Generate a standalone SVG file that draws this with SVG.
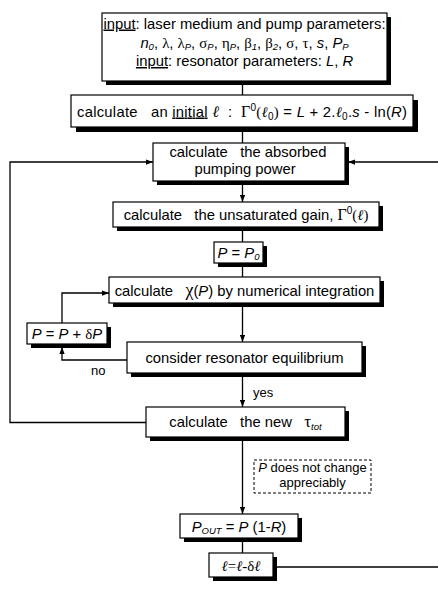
<svg xmlns="http://www.w3.org/2000/svg" width="438" height="595" viewBox="0 0 438 595">
<style>
text{font-family:"Liberation Sans",Arial,sans-serif;font-size:14.8px;fill:#000;white-space:pre}
.box{fill:#fff;stroke:#000;stroke-width:1.2}
.sh{fill:#000}
.ln{fill:none;stroke:#000;stroke-width:1.3}
.dash{fill:#fff;stroke:#000;stroke-width:1;stroke-dasharray:3,2}
.it{font-style:italic}
.gr{font-family:"Liberation Serif","Times New Roman",serif}
.sub{font-size:9.5px;font-style:italic}
.sm{font-size:13px}
</style>
<defs>
<marker id="ah" viewBox="0 0 8 6" refX="8" refY="3" markerWidth="7" markerHeight="5.5" orient="auto" markerUnits="userSpaceOnUse">
<path d="M0,0 L8,3 L0,6 z" fill="#000"/>
</marker>
</defs>
<rect width="438" height="595" fill="#fff"/>

<g id="connectors">
<path class="ln" d="M242.5,84 V95"/>
<path class="ln" d="M242.5,131 V143"/>
<path class="ln" d="M242.5,185 V202" marker-end="url(#ah)"/>
<path class="ln" d="M242.5,230 V242"/>
<path class="ln" d="M242.5,266 V277"/>
<path class="ln" d="M242.5,306 V342" marker-end="url(#ah)"/>
<path class="ln" d="M242.5,376 V407" marker-end="url(#ah)"/>
<path class="ln" d="M242.5,440 V514" marker-end="url(#ah)"/>
<path class="ln" d="M242.5,541 V553"/>
<path class="ln" d="M146,422.5 H10 V162 H153" marker-end="url(#ah)"/>
<path class="ln" d="M438,162 H348" marker-end="url(#ah)"/>
<path class="ln" d="M62,323 V293 H109" marker-end="url(#ah)"/>
<path class="ln" d="M127,360 H62 V347" marker-end="url(#ah)"/>
<path class="ln" d="M276,567 H438"/>
<text x="91" y="375" class="sm">no</text>
<text x="253" y="397" class="sm">yes</text>
</g>

<g id="input">
<rect class="sh" x="106" y="17" width="285" height="68"/>
<rect class="box" x="102" y="13" width="285" height="68"/>
<text x="244.5" y="28.5" text-anchor="middle"><tspan text-decoration="underline">input</tspan>: laser medium and pump parameters:</text>
<text x="244.5" y="47.5" text-anchor="middle"><tspan class="it">n</tspan><tspan class="sub" dy="2.5">0</tspan><tspan dy="-2.5">, </tspan><tspan class="gr">λ</tspan>, <tspan class="gr">λ</tspan><tspan class="sub" dy="2.5">P</tspan><tspan dy="-2.5">, </tspan><tspan class="gr">σ</tspan><tspan class="sub" dy="2.5">P</tspan><tspan dy="-2.5">, </tspan><tspan class="gr">η</tspan><tspan class="sub" dy="2.5">P</tspan><tspan dy="-2.5">, </tspan><tspan class="gr">β</tspan><tspan class="sub" dy="2.5">1</tspan><tspan dy="-2.5">, </tspan><tspan class="gr">β</tspan><tspan class="sub" dy="2.5">2</tspan><tspan dy="-2.5">, </tspan><tspan class="gr">σ</tspan>, <tspan class="gr">τ</tspan>, <tspan class="it">s</tspan>, <tspan class="it">P</tspan><tspan class="sub" dy="2.5">P</tspan></text>
<text x="244.5" y="66" text-anchor="middle"><tspan text-decoration="underline">input</tspan>: resonator parameters: <tspan class="it">L</tspan>, <tspan class="it">R</tspan></text>
</g>

<g id="initial">
<rect class="sh" x="76" y="100" width="342" height="32"/>
<rect class="box" x="71" y="95" width="342" height="32"/>
<text x="77" y="116.5" textLength="330" lengthAdjust="spacing">calculate   an <tspan text-decoration="underline">initial</tspan> <tspan class="gr it" font-size="16">ℓ</tspan>  :  <tspan class="gr" font-size="16">Γ</tspan><tspan font-size="10" dy="-6">0</tspan><tspan class="gr" dy="6">(<tspan class="it">ℓ</tspan></tspan><tspan font-size="10" dy="3">0</tspan><tspan class="gr" dy="-3">)</tspan> = <tspan class="it">L</tspan> + 2.<tspan class="gr it">ℓ</tspan><tspan font-size="10" dy="3">0</tspan><tspan dy="-3">.</tspan><tspan class="it">s</tspan> - ln(<tspan class="it">R</tspan>)</text>
</g>

<g id="absorbed">
<rect class="sh" x="157" y="147" width="192" height="38"/>
<rect class="box" x="153" y="143" width="192" height="38"/>
<text x="248" y="157" text-anchor="middle">calculate   the absorbed</text>
<text x="245" y="173.5" text-anchor="middle">pumping power</text>
</g>

<g id="gain">
<rect class="sh" x="117" y="206" width="266" height="25"/>
<rect class="box" x="113" y="202" width="266" height="25"/>
<text x="246" y="219.5" text-anchor="middle">calculate   the unsaturated gain, <tspan class="gr" font-size="16">Γ</tspan><tspan font-size="10" dy="-6">0</tspan><tspan class="gr" dy="6">(<tspan class="it">ℓ</tspan>)</tspan></text>
</g>

<g id="p0">
<rect class="sh" x="218" y="246" width="49" height="21"/>
<rect class="box" x="214" y="242" width="49" height="21"/>
<text x="238.5" y="257.5" text-anchor="middle"><tspan class="it">P</tspan> = <tspan class="it">P</tspan><tspan class="sub" dy="2">0</tspan></text>
</g>

<g id="chi">
<rect class="sh" x="113" y="281" width="271" height="26"/>
<rect class="box" x="109" y="277" width="271" height="26"/>
<text x="244.5" y="295.5" text-anchor="middle">calculate   <tspan class="gr" font-size="18">χ</tspan>(<tspan class="it">P</tspan>) by numerical integration</text>
</g>

<g id="increment">
<rect class="sh" x="31" y="327" width="80" height="21"/>
<rect class="box" x="27" y="323" width="80" height="21"/>
<text x="67" y="339" text-anchor="middle"><tspan class="it">P</tspan> = <tspan class="it">P</tspan> + <tspan class="gr">δ</tspan><tspan class="it">P</tspan></text>
</g>

<g id="equilibrium">
<rect class="sh" x="131" y="346" width="235" height="31"/>
<rect class="box" x="127" y="342" width="235" height="31"/>
<text x="244.5" y="363" text-anchor="middle">consider resonator equilibrium</text>
</g>

<g id="tau">
<rect class="sh" x="150" y="411" width="199" height="30"/>
<rect class="box" x="146" y="407" width="199" height="30"/>
<text x="245.5" y="427" text-anchor="middle">calculate   the new   <tspan class="gr" font-size="17">τ</tspan><tspan class="sub" dy="3">tot</tspan></text>
</g>

<g id="note">
<rect class="dash" x="254" y="460" width="117" height="33"/>
<text x="312.5" y="472" text-anchor="middle" class="sm"><tspan class="it">P</tspan> does not change</text>
<text x="312.5" y="487" text-anchor="middle" class="sm">appreciably</text>
</g>

<g id="pout">
<rect class="sh" x="184" y="518" width="118" height="24"/>
<rect class="box" x="180" y="514" width="118" height="24"/>
<text x="239" y="532" text-anchor="middle"><tspan class="it">P</tspan><tspan class="sub" dy="2">OUT</tspan><tspan dy="-2"> = </tspan><tspan class="it">P</tspan> (1-<tspan class="it">R</tspan>)</text>
</g>

<g id="ell">
<rect class="sh" x="213" y="557" width="64" height="24"/>
<rect class="box" x="209" y="553" width="64" height="24"/>
<text x="241" y="570.5" text-anchor="middle" class="gr" font-size="16"><tspan class="it">ℓ</tspan>=<tspan class="it">ℓ</tspan>-δ<tspan class="it">ℓ</tspan></text>
</g>
</svg>
